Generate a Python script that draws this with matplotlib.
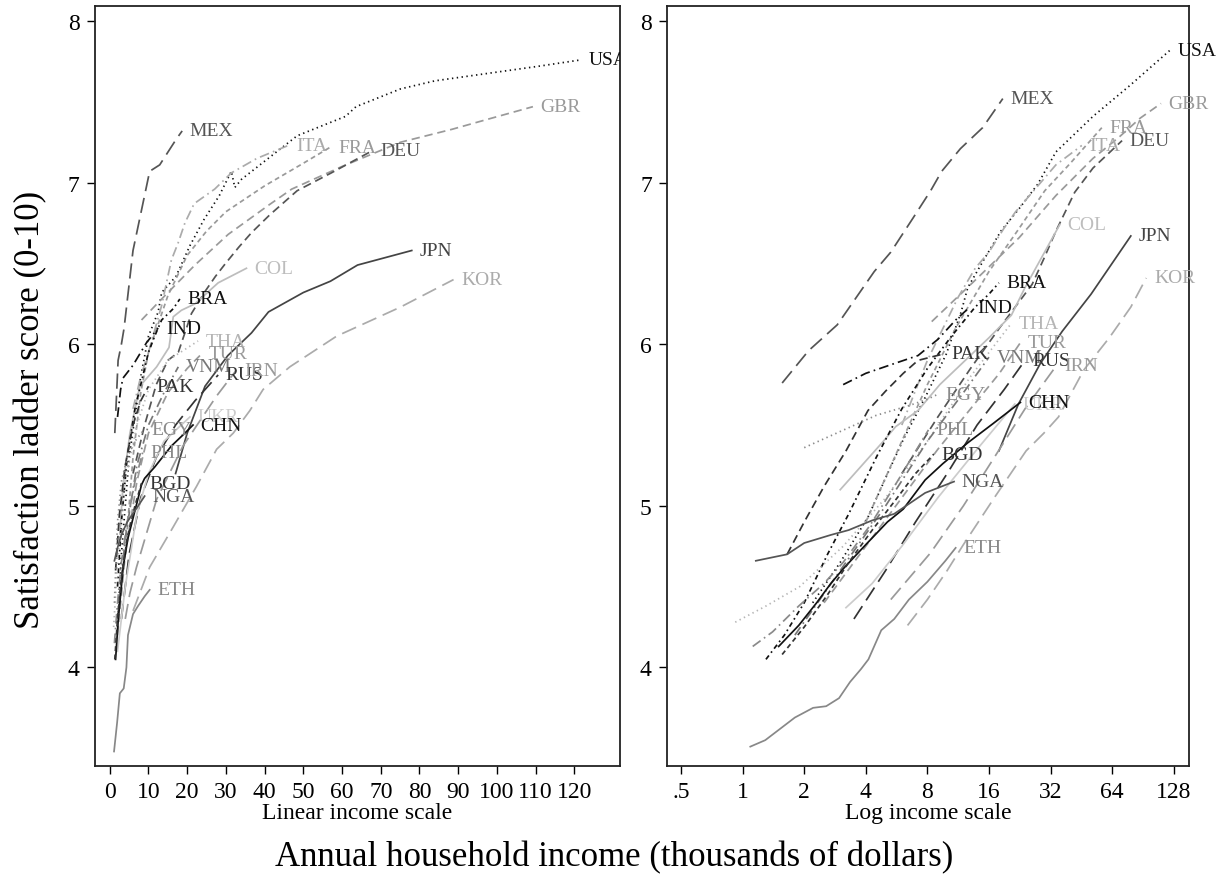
import matplotlib
matplotlib.use('Agg')
import matplotlib.pyplot as plt

plt.rcParams['font.family'] = ['Liberation Serif', 'DejaVu Serif']
plt.rcParams['lines.scale_dashes'] = False

countries = ['USA', 'MEX', 'GBR', 'ITA', 'FRA', 'DEU', 'COL', 'JPN', 'KOR', 'BRA', 'IND', 'THA',
             'TUR', 'VNM', 'RUS', 'IRN', 'PAK', 'UKR', 'EGY', 'CHN', 'PHL', 'BGD', 'NGA', 'ETH']

# ---- linear-scale panel: income (thousands of $) and satisfaction ----
lin_income = {
    'USA': [2.0, 3.0, 5.0, 8.0, 10.0, 12.5, 13.4, 17.1, 20.7, 24.3, 28.3, 31.4, 32.3, 34.0, 48.4, 60.9, 63.6, 75.1, 84.0, 92.9, 110.7, 121.8],
    'MEX': [1.3, 1.7, 2.15, 3.0, 3.7, 6.0, 8.9, 10.3, 12.9, 17.2, 18.7],
    'GBR': [8.2, 13.4, 22.0, 30.6, 41.0, 47.0, 60.0, 75.1, 88.4, 97.3, 109.3],
    'ITA': [6.0, 8.0, 10.0, 13.4, 15.9, 17.7, 19.4, 21.8, 27.1, 31.4, 38.0, 46.1],
    'FRA': [4.0, 6.0, 8.0, 10.0, 15.0, 20.0, 25.0, 30.0, 40.0, 50.0, 57.0],
    'DEU': [6.0, 9.0, 12.0, 15.0, 17.7, 19.4, 21.1, 24.7, 27.3, 29.9, 33.3, 36.6, 41.3, 48.4, 57.2, 68.0],
    'COL': [2.6, 3.4, 5.2, 7.75, 12.1, 15.3, 16.4, 18.5, 22.0, 28.0, 35.3],
    'JPN': [17.0, 20.0, 24.6, 30.5, 36.6, 41.0, 50.0, 57.0, 64.0, 78.0],
    'KOR': [6.0, 10.3, 16.4, 22.4, 27.6, 31.9, 36.2, 39.6, 46.5, 58.6, 75.1, 88.8],
    'BRA': [2.0, 3.0, 4.5, 6.5, 8.5, 10.0, 11.6, 13.4, 16.4, 18.1],
    'IND': [2.0, 2.8, 3.4, 6.0, 7.75, 9.5, 12.5],
    'THA': [1.0, 2.0, 4.0, 7.0, 10.0, 15.0, 22.8],
    'TUR': [2.0, 4.0, 7.0, 10.0, 15.0, 20.0, 23.7],
    'VNM': [2.0, 4.0, 7.0, 10.0, 14.0, 17.7],
    'RUS': [3.0, 5.0, 8.0, 12.0, 17.0, 22.0, 28.0],
    'IRN': [4.0, 5.2, 6.9, 9.5, 12.1, 18.9, 27.6, 32.7],
    'PAK': [1.5, 2.5, 4.0, 6.0, 8.0, 10.0],
    'UKR': [2.0, 4.0, 7.0, 10.0, 14.0, 20.7],
    'EGY': [1.2, 2.0, 3.0, 4.5, 6.5, 8.8],
    'CHN': [1.5, 2.2, 3.5, 4.7, 6.5, 8.2, 9.0, 11.6, 15.9, 19.4, 21.5],
    'PHL': [1.2, 2.0, 3.0, 4.5, 6.5, 8.5],
    'BGD': [1.3, 2.0, 3.0, 4.5, 6.5, 8.2],
    'NGA': [1.2, 2.0, 3.0, 4.5, 6.5, 9.0],
    'ETH': [1.1, 1.9, 2.6, 3.6, 4.3, 4.7, 6.0, 7.3, 9.0, 10.3],
}
lin_score = {
    'USA': [4.25, 4.70, 5.30, 5.80, 6.05, 6.20, 6.32, 6.42, 6.61, 6.77, 6.92, 7.07, 6.97, 7.02, 7.29, 7.41, 7.47, 7.58, 7.63, 7.66, 7.72, 7.76],
    'MEX': [5.45, 5.66, 5.90, 6.00, 6.10, 6.58, 6.91, 7.07, 7.11, 7.27, 7.32],
    'GBR': [6.15, 6.28, 6.49, 6.68, 6.86, 6.96, 7.10, 7.25, 7.33, 7.39, 7.47],
    'ITA': [5.60, 5.80, 5.95, 6.24, 6.52, 6.63, 6.75, 6.87, 6.96, 7.06, 7.15, 7.23],
    'FRA': [4.70, 5.30, 5.70, 5.95, 6.30, 6.55, 6.70, 6.82, 6.98, 7.12, 7.22],
    'DEU': [5.20, 5.50, 5.75, 5.90, 5.95, 6.07, 6.19, 6.33, 6.42, 6.50, 6.60, 6.69, 6.80, 6.95, 7.06, 7.20],
    'COL': [4.83, 5.12, 5.45, 5.74, 5.86, 5.98, 6.17, 6.21, 6.25, 6.38, 6.47],
    'JPN': [5.20, 5.45, 5.74, 5.93, 6.07, 6.20, 6.32, 6.39, 6.49, 6.58],
    'KOR': [4.35, 4.62, 4.87, 5.12, 5.35, 5.45, 5.59, 5.72, 5.86, 6.05, 6.23, 6.40],
    'BRA': [4.50, 4.90, 5.30, 5.60, 5.80, 5.95, 6.05, 6.15, 6.22, 6.28],
    'IND': [5.55, 5.72, 5.79, 5.87, 5.94, 6.01, 6.10],
    'THA': [4.25, 4.65, 5.15, 5.50, 5.72, 5.90, 6.02],
    'TUR': [4.20, 4.70, 5.15, 5.45, 5.70, 5.85, 5.94],
    'VNM': [4.30, 4.80, 5.25, 5.50, 5.70, 5.86],
    'RUS': [4.30, 4.70, 5.05, 5.30, 5.50, 5.65, 5.81],
    'IRN': [4.30, 4.46, 4.62, 4.83, 5.04, 5.37, 5.68, 5.84],
    'PAK': [4.60, 4.95, 5.25, 5.50, 5.65, 5.74],
    'UKR': [4.10, 4.50, 4.95, 5.20, 5.40, 5.55],
    'EGY': [4.40, 4.90, 5.15, 5.30, 5.40, 5.47],
    'CHN': [4.05, 4.30, 4.63, 4.80, 4.97, 5.13, 5.17, 5.24, 5.37, 5.45, 5.50],
    'PHL': [4.15, 4.40, 4.65, 4.90, 5.15, 5.33],
    'BGD': [4.05, 4.30, 4.55, 4.80, 5.00, 5.14],
    'NGA': [4.66, 4.74, 4.82, 4.90, 4.97, 5.06],
    'ETH': [3.48, 3.66, 3.84, 3.87, 4.00, 4.20, 4.33, 4.38, 4.44, 4.48],
}

# ---- log-scale panel ----
log_income = {
    'USA': [2.2, 3.0, 4.1, 5.2, 6.1, 7.8, 9.9, 11.7, 12.6, 14.9, 18.3, 22.5, 27.7, 34.0, 51.6, 78.0, 123.0],
    'MEX': [1.56, 2.1, 2.9, 4.4, 5.3, 6.8, 8.3, 9.4, 11.6, 14.9, 18.7],
    'GBR': [8.4, 13.8, 22.5, 34.0, 51.6, 69.0, 88.0, 111.0],
    'ITA': [6.0, 8.0, 11.3, 13.7, 16.0, 19.0, 21.6, 34.0, 45.5],
    'FRA': [4.0, 6.0, 8.0, 11.0, 16.0, 22.0, 30.0, 40.0, 57.0],
    'DEU': [6.0, 9.0, 13.0, 18.0, 23.0, 26.0, 29.7, 34.0, 42.0, 51.6, 71.6],
    'COL': [3.0, 4.8, 5.6, 7.2, 9.2, 16.0, 20.6, 24.0, 35.5],
    'JPN': [17.9, 22.3, 28.5, 36.5, 50.5, 79.0],
    'KOR': [6.4, 8.0, 10.0, 12.0, 17.2, 24.3, 29.7, 35.0, 46.5, 62.0, 79.0, 94.0],
    'BRA': [1.3, 1.6, 2.0, 2.6, 3.3, 4.5, 6.0, 8.0, 10.5, 13.7, 16.0, 17.9],
    'IND': [3.1, 4.0, 5.5, 7.2, 9.0, 11.0, 12.9],
    'THA': [0.92, 1.3, 1.9, 3.1, 5.0, 8.0, 13.0, 20.6],
    'TUR': [2.5, 4.0, 6.0, 9.0, 13.0, 18.0, 22.8],
    'VNM': [1.8, 3.0, 5.0, 8.0, 12.0, 16.0],
    'RUS': [3.5, 5.0, 7.0, 10.0, 14.0, 19.0, 24.0],
    'IRN': [5.3, 8.3, 12.0, 17.0, 24.0, 34.3],
    'PAK': [1.65, 2.0, 2.5, 3.2, 4.1, 5.0, 6.1, 7.2, 9.6],
    'UKR': [3.2, 4.3, 6.0, 9.0, 14.0, 21.4],
    'EGY': [2.0, 3.0, 4.5, 6.5, 8.0, 9.0],
    'CHN': [1.5, 1.88, 2.3, 2.7, 3.1, 4.0, 5.1, 6.1, 7.8, 9.5, 12.6, 16.8, 22.8],
    'PHL': [1.12, 1.4, 1.88, 2.5, 3.1, 4.2, 5.7, 8.1],
    'BGD': [1.56, 2.0, 2.6, 3.3, 4.3, 5.7, 7.0, 8.6],
    'NGA': [1.16, 1.65, 2.0, 2.7, 3.3, 4.3, 5.5, 7.8, 10.8],
    'ETH': [1.09, 1.29, 1.80, 2.21, 2.56, 2.96, 3.35, 3.79, 4.12, 4.76, 5.51, 6.5, 8.0, 9.8, 11.0],
}
log_score = {
    'USA': [4.40, 4.65, 4.93, 5.22, 5.41, 5.67, 5.94, 6.20, 6.35, 6.51, 6.70, 6.84, 6.99, 7.19, 7.41, 7.60, 7.82],
    'MEX': [5.76, 5.96, 6.12, 6.45, 6.57, 6.78, 6.95, 7.07, 7.21, 7.34, 7.52],
    'GBR': [6.14, 6.40, 6.66, 6.92, 7.15, 7.28, 7.40, 7.49],
    'ITA': [5.50, 5.90, 6.29, 6.47, 6.57, 6.72, 6.82, 7.11, 7.23],
    'FRA': [4.90, 5.40, 5.75, 6.10, 6.45, 6.70, 6.95, 7.12, 7.34],
    'DEU': [5.20, 5.55, 5.85, 6.10, 6.28, 6.37, 6.53, 6.70, 6.94, 7.09, 7.26],
    'COL': [5.10, 5.39, 5.49, 5.59, 5.75, 6.04, 6.18, 6.35, 6.74],
    'JPN': [5.34, 5.63, 5.88, 6.08, 6.31, 6.67],
    'KOR': [4.26, 4.42, 4.60, 4.76, 5.06, 5.34, 5.45, 5.55, 5.84, 6.04, 6.23, 6.41],
    'BRA': [4.05, 4.20, 4.40, 4.70, 4.95, 5.30, 5.60, 5.85, 6.05, 6.23, 6.31, 6.38],
    'IND': [5.75, 5.82, 5.88, 5.93, 6.03, 6.15, 6.23],
    'THA': [4.28, 4.38, 4.50, 4.75, 5.05, 5.40, 5.80, 6.13],
    'TUR': [4.40, 4.75, 5.05, 5.35, 5.60, 5.82, 6.01],
    'VNM': [4.20, 4.60, 5.00, 5.40, 5.70, 5.92],
    'RUS': [4.30, 4.60, 4.90, 5.20, 5.50, 5.72, 5.90],
    'IRN': [4.42, 4.71, 5.00, 5.30, 5.60, 5.87],
    'PAK': [4.70, 4.90, 5.12, 5.34, 5.59, 5.71, 5.82, 5.90, 5.94],
    'UKR': [4.37, 4.52, 4.75, 5.05, 5.35, 5.63],
    'EGY': [5.36, 5.46, 5.56, 5.62, 5.66, 5.69],
    'CHN': [4.13, 4.26, 4.40, 4.52, 4.61, 4.76, 4.90, 4.98, 5.16, 5.26, 5.39, 5.51, 5.64],
    'PHL': [4.13, 4.22, 4.38, 4.52, 4.65, 4.88, 5.15, 5.47],
    'BGD': [4.08, 4.25, 4.45, 4.65, 4.85, 5.05, 5.20, 5.32],
    'NGA': [4.66, 4.70, 4.77, 4.82, 4.85, 4.91, 4.95, 5.08, 5.15],
    'ETH': [3.51, 3.55, 3.69, 3.75, 3.76, 3.81, 3.91, 3.99, 4.05, 4.23, 4.30, 4.42, 4.53, 4.66, 4.74],
}

# ---- styles ----
SOLID = '-'
DOT = (0, (1, 2.5))
DASH = (0, (6, 3.5))
LONG = (0, (11, 5))
DASHDOT = (0, (7, 3, 1.2, 3))
SHORTDOT = (0, (3.5, 2.5, 1.2, 2.5))
SHORT = (0, (3.5, 2.5))

color = {
    'USA': '#111111', 'MEX': '#555555', 'GBR': '#9a9a9a', 'ITA': '#ababab', 'FRA': '#9a9a9a',
    'DEU': '#555555', 'COL': '#bdbdbd', 'JPN': '#444444', 'KOR': '#ababab', 'BRA': '#111111',
    'IND': '#111111', 'THA': '#b5b5b5', 'TUR': '#9a9a9a', 'VNM': '#777777', 'RUS': '#333333',
    'IRN': '#9a9a9a', 'PAK': '#333333', 'UKR': '#cccccc', 'EGY': '#8a8a8a', 'CHN': '#111111',
    'PHL': '#8a8a8a', 'BGD': '#333333', 'NGA': '#555555', 'ETH': '#888888',
}
style = {
    'USA': DOT, 'MEX': LONG, 'GBR': DASH, 'ITA': DASHDOT, 'FRA': SHORT,
    'DEU': DASH, 'COL': SOLID, 'JPN': SOLID, 'KOR': LONG, 'BRA': SHORTDOT,
    'IND': DASHDOT, 'THA': DOT, 'TUR': DASH, 'VNM': DASHDOT, 'RUS': LONG,
    'IRN': LONG, 'PAK': DASH, 'UKR': SOLID, 'EGY': DOT, 'CHN': SOLID,
    'PHL': DASHDOT, 'BGD': SHORT, 'NGA': SOLID, 'ETH': SOLID,
}

fig = plt.figure(figsize=(12.28, 8.79), dpi=100)
ax1 = fig.add_axes([0.0771, 0.1274, 0.4278, 0.865])
ax2 = fig.add_axes([0.5432, 0.1274, 0.4250, 0.865])


def draw(ax, inc, sc, clip):
    for c in countries:
        ax.plot(inc[c], sc[c], color=color[c], linestyle=style[c], lw=1.25)
        t = ax.annotate(c, xy=(inc[c][-1], sc[c][-1]), xytext=(5.5, 0),
                        textcoords='offset points', ha='left', va='center',
                        fontsize=14, color=color[c], annotation_clip=False)
        t.set_clip_on(clip)
        if clip:
            t.set_clip_box(ax.bbox)


draw(ax1, lin_income, lin_score, True)
draw(ax2, log_income, log_score, False)

ax1.set_xlim(-3.9, 131.8)
ax1.set_xticks(list(range(0, 121, 10)))
ax2.set_xscale('log', base=2)
ax2.set_xlim(0.427, 152)
log_ticks = [0.5, 1, 2, 4, 8, 16, 32, 64, 128]
ax2.set_xticks(log_ticks)
ax2.set_xticklabels(['.5', '1', '2', '4', '8', '16', '32', '64', '128'])
ax2.minorticks_off()

for ax in (ax1, ax2):
    ax.set_ylim(3.39, 8.095)
    ax.set_yticks([4, 5, 6, 7, 8])
    ax.tick_params(direction='out', length=6, width=1.0, labelsize=17, pad=5,
                   top=False, right=False)
    for s in ax.spines.values():
        s.set_linewidth(1.3)
        s.set_color('#222222')

ax1.set_xlabel('Linear income scale', fontsize=17, labelpad=0)
ax2.set_xlabel('Log income scale', fontsize=17, labelpad=0)

fig.text(0.5, 0.024, 'Annual household income (thousands of dollars)', ha='center',
         va='center', fontsize=25)
fig.text(0.025, 0.534, 'Satisfaction ladder score (0-10)', ha='center', va='center',
         rotation=90, fontsize=25)

fig.savefig('out.png', dpi=100)
